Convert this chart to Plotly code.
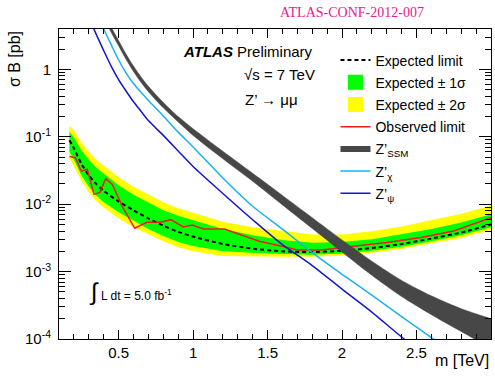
import plotly.graph_objects as go

# ---------------- data ----------------
mass_exp = [0.17, 0.2, 0.25, 0.3, 0.35, 0.4, 0.5, 0.6, 0.7, 0.8, 0.9, 1.0,
            1.2, 1.4, 1.6, 1.8, 2.0, 2.2, 2.4, 2.6, 2.8, 3.0]
exp_med = [0.0891, 0.0676, 0.0398, 0.0269, 0.0200, 0.0158, 0.0110, 0.00813, 0.00617, 0.00479, 0.00389, 0.00331,
           0.00257, 0.00219, 0.00200, 0.00195, 0.00204, 0.00224, 0.00257, 0.00309, 0.00380, 0.00501]
exp_p1 = [0.1175, 0.0977, 0.0631, 0.0457, 0.0347, 0.0282, 0.0191, 0.0138, 0.0105, 0.00813, 0.00676, 0.00575,
          0.00427, 0.00347, 0.00295, 0.00269, 0.00275, 0.00302, 0.00355, 0.00427, 0.00537, 0.00708]
exp_m1 = [0.0603, 0.0457, 0.0269, 0.0182, 0.0135, 0.0107, 0.00759, 0.00562, 0.00427, 0.00339, 0.00275, 0.00240,
          0.00200, 0.00191, 0.00182, 0.00178, 0.00186, 0.00204, 0.00234, 0.00282, 0.00347, 0.00457]
exp_p2 = [0.1445, 0.1259, 0.0832, 0.0603, 0.0457, 0.0372, 0.0251, 0.0182, 0.0138, 0.0107, 0.00871, 0.00741,
          0.00550, 0.00457, 0.00398, 0.00355, 0.00355, 0.00398, 0.00468, 0.00575, 0.00724, 0.00955]
exp_m2 = [0.0490, 0.0372, 0.0224, 0.0151, 0.0112, 0.00891, 0.00617, 0.00457, 0.00355, 0.00282, 0.00229, 0.00200,
          0.00170, 0.00166, 0.00166, 0.00166, 0.00174, 0.00191, 0.00219, 0.00263, 0.00316, 0.00417]

mass_obs = [0.17, 0.21, 0.25, 0.29, 0.335, 0.375, 0.413, 0.458, 0.525, 0.608, 0.69, 0.78, 0.85, 0.935,
            0.995, 1.07, 1.21, 1.34, 1.45, 1.59, 1.70, 1.86, 2.08, 2.30, 2.53, 2.75, 3.0]
obs = [0.051, 0.049, 0.031, 0.033, 0.014, 0.015, 0.024, 0.0196, 0.0093, 0.0044, 0.0054, 0.0054, 0.0059, 0.0046,
       0.0049, 0.0043, 0.0043, 0.0034, 0.0028, 0.0024, 0.0021, 0.0021, 0.0024, 0.0027, 0.0032, 0.0040, 0.0063]

mass_th = [0.3, 0.35, 0.4, 0.45, 0.5, 0.55, 0.6, 0.65, 0.7, 0.8, 0.9, 1.0, 1.2, 1.4, 1.6, 1.8,
           2.0, 2.2, 2.4, 2.6, 2.8, 3.0]
ssm_hi = [20.9, 12.3, 7.24, 4.27, 2.69, 1.698, 1.122, 0.776, 0.562, 0.324, 0.1995, 0.132, 0.0610, 0.0288,
          0.0135, 0.00631, 0.00295, 0.00143, 0.000741, 0.000437, 0.000282, 0.000200]
ssm_lo = [17.4, 10.2, 6.03, 3.55, 2.24, 1.413, 0.933, 0.646, 0.468, 0.269, 0.166, 0.105, 0.0473, 0.0219,
          0.00977, 0.00437, 0.00195, 0.000881, 0.000427, 0.000229, 0.000129, 0.0000724]
chi = [12.0, 6.92, 3.98, 2.34, 1.38, 0.891, 0.617, 0.457, 0.347, 0.204, 0.1175, 0.0708, 0.0245, 0.00933,
       0.00427, 0.00191, 0.000912, 0.000447, 0.000214, 0.000105, 0.000050, 0.000025]
psi = [5.89, 3.31, 1.905, 1.122, 0.708, 0.479, 0.331, 0.240, 0.174, 0.105, 0.0617, 0.0363, 0.01445, 0.00589,
       0.00251, 0.00123, 0.00055, 0.000251, 0.000107, 0.000050, 0.000022, 0.000010]

x_ticks = [0.5, 1, 1.5, 2, 2.5, 3]
x_tick_text = ["0.5", "1", "1.5", "2", "2.5", "3"]
y_ticks = [1e-4, 1e-3, 1e-2, 1e-1, 1]
y_tick_text = ["10<sup>-4</sup>", "10<sup>-3</sup>", "10<sup>-2</sup>", "10<sup>-1</sup>", "1"]

# ---------------- styles ----------------
FONT = "Liberation Sans, Arial, Helvetica, sans-serif"
YELLOW = "#ffff00"
GREEN = "#00ff00"
RED = "#ee1c1c"
GREY = "#474747"
CYAN = "#1ab2ee"
BLUE = "#1515cc"

fig = go.Figure()

# +-2 sigma band
fig.add_trace(go.Scatter(x=mass_exp, y=exp_m2, mode="lines", line=dict(width=0, color=YELLOW),
                         showlegend=False, hoverinfo="skip"))
fig.add_trace(go.Scatter(x=mass_exp, y=exp_p2, mode="lines", line=dict(width=0, color=YELLOW),
                         fill="tonexty", fillcolor=YELLOW, showlegend=False, hoverinfo="skip"))
# +-1 sigma band
fig.add_trace(go.Scatter(x=mass_exp, y=exp_m1, mode="lines", line=dict(width=0, color=GREEN),
                         showlegend=False, hoverinfo="skip"))
fig.add_trace(go.Scatter(x=mass_exp, y=exp_p1, mode="lines", line=dict(width=0, color=GREEN),
                         fill="tonexty", fillcolor=GREEN, showlegend=False, hoverinfo="skip"))
# expected & observed
fig.add_trace(go.Scatter(x=mass_exp, y=exp_med, mode="lines", name="Expected limit",
                         line=dict(color="black", width=2, dash="4px,3px", shape="spline", smoothing=0.6),
                         legendrank=1, legendgroup="g1"))
fig.add_trace(go.Scatter(x=mass_obs, y=obs, mode="lines", name="Observed limit",
                         line=dict(color=RED, width=1.5), legendrank=4, legendgroup="g4"))
# SSM band
fig.add_trace(go.Scatter(x=mass_th, y=ssm_lo, mode="lines",
                         line=dict(width=0.5, color=GREY, shape="spline", smoothing=0.8),
                         showlegend=False, hoverinfo="skip"))
fig.add_trace(go.Scatter(x=mass_th, y=ssm_hi, mode="lines",
                         line=dict(width=0.5, color=GREY, shape="spline", smoothing=0.8),
                         fill="tonexty", fillcolor=GREY, showlegend=False, hoverinfo="skip"))
fig.add_trace(go.Scatter(x=mass_th, y=chi, mode="lines", name="Z\u2019<sub>\u03c7</sub>",
                         line=dict(color=CYAN, width=1.5, shape="spline", smoothing=0.8),
                         legendrank=6, legendgroup="g6"))
fig.add_trace(go.Scatter(x=mass_th, y=psi, mode="lines", name="Z\u2019<sub>\u03c8</sub>",
                         line=dict(color=BLUE, width=1.5, shape="spline", smoothing=0.8),
                         legendrank=7, legendgroup="g7"))

# legend-only keys
fig.add_trace(go.Scatter(x=[None], y=[None], mode="markers", name="Expected \u00b1 1\u03c3",
                         marker=dict(symbol="square", size=15, color=GREEN), legendrank=2, legendgroup="g2"))
fig.add_trace(go.Scatter(x=[None], y=[None], mode="markers", name="Expected \u00b1 2\u03c3",
                         marker=dict(symbol="square", size=15, color=YELLOW), legendrank=3, legendgroup="g3"))
fig.add_trace(go.Scatter(x=[None], y=[None], mode="lines", name="Z\u2019<sub>SSM</sub>",
                         line=dict(color=GREY, width=6), legendrank=5, legendgroup="g5"))

minor_y = [m * 10.0 ** e for e in range(-4, 1) for m in range(2, 10)]

fig.update_xaxes(type="linear", range=[0.1, 3.0], tickvals=x_ticks, ticktext=x_tick_text,
                 ticks="inside", ticklen=9, tickwidth=1, tickcolor="black",
                 showline=True, linecolor="black", linewidth=1, mirror="allticks",
                 showgrid=False, zeroline=False,
                 tickfont=dict(family=FONT, size=15, color="black"),
                 minor=dict(ticks="inside", ticklen=5, tickwidth=1, tickcolor="black", dtick=0.1, showgrid=False))
fig.update_yaxes(type="log", range=[-4, 0.6], tickvals=y_ticks, ticktext=y_tick_text,
                 ticks="inside", ticklen=12, tickwidth=1, tickcolor="black",
                 showline=True, linecolor="black", linewidth=1, mirror="allticks",
                 showgrid=False, zeroline=False, ticklabelstandoff=4,
                 tickfont=dict(family=FONT, size=15, color="black"),
                 minor=dict(ticks="inside", ticklen=6, tickwidth=1, tickcolor="black",
                            tickvals=minor_y, showgrid=False))

annotations = [
    dict(text="ATLAS-CONF-2012-007", x=0.678, y=1.052, xref="paper", yref="paper",
         xanchor="center", yanchor="middle", showarrow=False,
         font=dict(family="Liberation Serif, Times New Roman, serif", size=14, color="#e8208c")),
    dict(text="<b><i>ATLAS</i></b> Preliminary", x=0.282, y=0.927, xref="paper", yref="paper",
         xanchor="left", yanchor="middle", showarrow=False,
         font=dict(family=FONT, size=15, color="black")),
    dict(text="\u221as = 7 TeV", x=0.424, y=0.852, xref="paper", yref="paper",
         xanchor="left", yanchor="middle", showarrow=False,
         font=dict(family=FONT, size=15, color="black")),
    dict(text="Z\u2019 \u2192 \u03bc\u03bc", x=0.426, y=0.771, xref="paper", yref="paper",
         xanchor="left", yanchor="middle", showarrow=False,
         font=dict(family=FONT, size=15, color="black")),
    dict(text="<span style='font-size:24px'>\u222b</span> L dt = 5.0 fb<sup>-1</sup>",
         x=0.064, y=0.152, xref="paper", yref="paper",
         xanchor="left", yanchor="middle", showarrow=False,
         font=dict(family=FONT, size=12, color="black")),
    dict(text="\u03c3 B [pb]", x=-0.104, y=1.0, xref="paper", yref="paper", textangle=-90,
         xanchor="center", yanchor="top", showarrow=False,
         font=dict(family=FONT, size=16, color="black")),
    dict(text="m [TeV]", x=1.0, y=-0.068, xref="paper", yref="paper",
         xanchor="right", yanchor="middle", showarrow=False,
         font=dict(family=FONT, size=16, color="black")),
]

fig.update_layout(
    width=495, height=377,
    margin=dict(l=59, r=4, t=29, b=38),
    paper_bgcolor="white", plot_bgcolor="white",
    font=dict(family=FONT, size=14, color="black"),
    annotations=annotations,
    showlegend=True,
    legend=dict(x=0.64, y=0.95, xanchor="left", yanchor="top", bgcolor="rgba(0,0,0,0)",
                borderwidth=0, font=dict(family=FONT, size=14, color="black"),
                traceorder="grouped", itemsizing="trace", tracegroupgap=1),
)

fig.write_html("out.html")
